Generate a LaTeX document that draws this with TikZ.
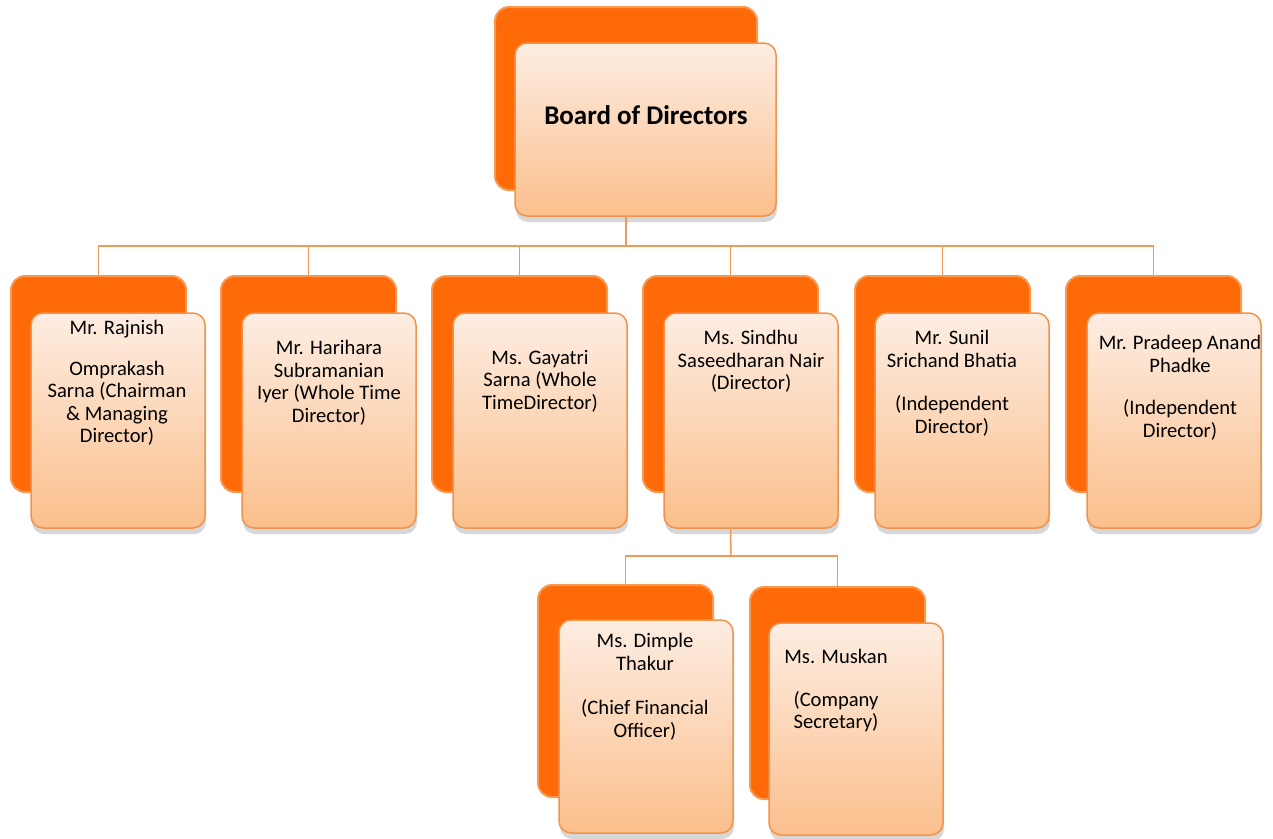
\documentclass[tikz,border=0pt]{standalone}
\usepackage{fontspec}
\setmainfont{Carlito}
\usetikzlibrary{shadows}
\definecolor{backfill}{HTML}{FF6A08}
\definecolor{backline}{HTML}{F79A50}
\definecolor{frontline}{HTML}{F3924A}
\definecolor{fronttop}{HTML}{FDEDE2}
\definecolor{frontbot}{HTML}{FBBF8C}
\definecolor{connc}{HTML}{EE9A5A}
\begin{document}
\begin{tikzpicture}[x=1pt,y=-1pt,
  back/.style={draw=backline, line width=2pt, fill=backfill, rounded corners=14pt,
    inner sep=0pt, outer sep=0pt, anchor=north west},
  front/.style={draw=frontline, line width=1.5pt, top color=fronttop, bottom color=frontbot,
    rounded corners=12pt, inner sep=0pt, outer sep=0pt, anchor=north west,
    drop shadow={shadow xshift=1pt, shadow yshift=-6pt, fill=black!45, opacity=0.35}},
  lbl/.style={anchor=north, align=center, inner sep=0pt, font=\fontsize{20.6}{22.6}\selectfont},
  conn/.style={draw=connc, line width=1.5pt}]
\useasboundingbox (0,0) rectangle (1273,838);

% top box
\node[back, minimum width=262pt, minimum height=183pt] (bodb) at (495,7) {};
\node[front, minimum width=261pt, minimum height=173pt] (bod) at (515,43) {};
\node[font=\bfseries\fontsize{27}{30}\selectfont] (bodt) at (646,115) {Board of Directors};

% level 2
\foreach \i/\bx/\fx in {1/11/31, 2/221/242, 3/432/453, 4/643/664, 5/855/875, 6/1066/1087}{
  \node[back, minimum width=175pt, minimum height=216pt] (d\i b) at (\bx,276) {};
  \node[front, minimum width=174pt, minimum height=215pt] (d\i) at (\fx,313) {};
}
% level 3
\node[back, minimum width=175pt, minimum height=212pt] (c1b) at (538,585) {};
\node[front, minimum width=174pt, minimum height=213pt] (c1) at (559,620) {};
\node[back, minimum width=175pt, minimum height=212pt] (c2b) at (750,587) {};
\node[front, minimum width=174pt, minimum height=212pt] (c2) at (769,623) {};

% labels
\node[lbl] (t1) at (117,320) {Mr. Rajnish\\[18pt]Omprakash\\Sarna (Chairman\\\& Managing\\Director)};
\node[lbl] (t2) at (329,340) {Mr. Harihara\\Subramanian\\Iyer (Whole Time\\Director)};
\node[lbl] (t3) at (540,350) {Ms. Gayatri\\Sarna (Whole\\TimeDirector)};
\node[lbl] (t4) at (751,330) {Ms. Sindhu\\Saseedharan Nair\\(Director)};
\node[lbl] (t5) at (952,330) {Mr. Sunil\\Srichand Bhatia\\[21pt](Independent\\Director)};
\node[lbl] (t6) at (1180,335) {Mr. Pradeep Anand\\Phadke\\[20pt](Independent\\Director)};
\node[lbl] (t7) at (645,633) {Ms. Dimple\\Thakur\\[22pt](Chief Financial\\Officer)};
\node[lbl] (t8) at (836,649) {Ms. Muskan\\[20pt](Company\\Secretary)};

% connectors
\coordinate (bus) at (626,246);
\draw[conn] (bodb.center |- bod.south) -- (bus);
\foreach \i in {1,...,6}{
  \draw[conn] (bus) -| (d\i b.north);
}
\coordinate (bus2) at (731,556);
\draw[conn] (d4b.center |- d4.south) -- (bus2);
\draw[conn] (bus2) -| (c1b.north);
\draw[conn] (bus2) -| (c2b.north);
\end{tikzpicture}
\end{document}
